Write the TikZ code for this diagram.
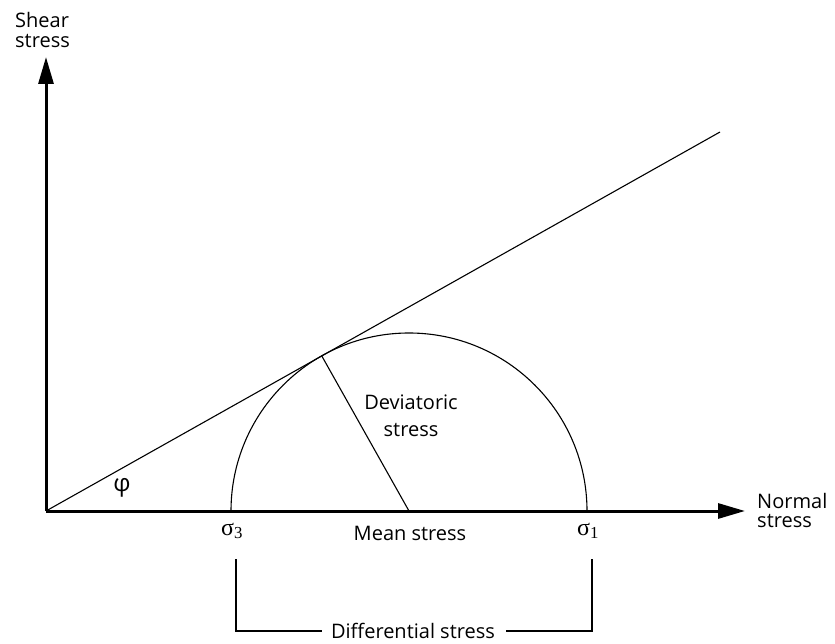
\documentclass[tikz,border=0pt]{standalone}
\usepackage{fontspec}
\setmainfont{Open Sans}
\newfontfamily\sigfont{Liberation Serif}
\usetikzlibrary{arrows.meta,calc}
\tikzset{
  axis/.style={line width=3pt,-{Triangle[length=27pt,width=15pt]}},
  thin/.style={line width=1.1pt},
  brk/.style={line width=1.8pt},
  lbl/.style={inner sep=0pt,font=\fontsize{20}{20}\selectfont},
  sig/.style={inner sep=0pt,font=\sigfont\fontsize{24}{24}\selectfont},
}
\begin{document}
\begin{tikzpicture}[x=1pt,y=1pt]
\useasboundingbox (0,0) rectangle (835,643);
\coordinate (O) at (46,132);
\coordinate (Ytip) at (46,586);
\coordinate (Xtip) at (745,132);
\coordinate (L) at (720,511);
\coordinate (C) at (409,132);
\coordinate (T) at ($(O)!(C)!(L)$);
% envelope line
\draw[thin] (O) -- (L);
% semicircle
\draw[thin] (231,132) arc[start angle=180,end angle=0,radius=178pt];
% radius
\draw[thin] (C) -- (T);
% axes
\draw[axis] (O) -- (Ytip);
\draw[axis] (O) -- (Xtip);
% labels
\node[lbl,anchor=base west,align=left,font=\fontsize{20}{20}\selectfont] (ylab) at (15,595) {Shear\\stress};
\node[lbl,anchor=base west,align=left,font=\fontsize{20}{19}\selectfont] (xlab) at (757,116) {Normal\\stress};
\node[lbl,anchor=base,align=center,font=\fontsize{20}{27}\selectfont] (dev) at (411,206) {Deviatoric\\stress};
\node[lbl,anchor=base] (mean) at (410,103) {Mean stress};
\node[sig,anchor=base] (s3) at (232,108) {σ\textsubscript{3}};
\node[sig,anchor=base] (s1) at (588,108) {σ\textsubscript{1}};
\node[inner sep=0pt,font=\fontsize{24}{24}\selectfont] (phi) at (122,155) {φ};
% bracket
\node[lbl] (diff) at (413,12) {Differential stress};
\coordinate (BLt) at (236,84);
\coordinate (BLb) at (236,12);
\coordinate (BRt) at (592,84);
\coordinate (BRb) at (592,12);
\draw[brk] (BLt) -- (BLb) -- ($(diff.west)+(-9,0)$);
\draw[brk] ($(diff.east)+(11,0)$) -- (BRb) -- (BRt);
\end{tikzpicture}
\end{document}
